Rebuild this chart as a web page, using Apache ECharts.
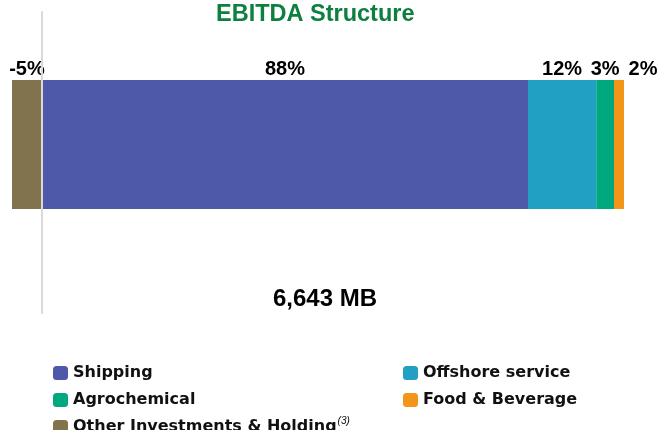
<!DOCTYPE html>
<html>
<head>
<meta charset="utf-8">
<script src="https://cdn.jsdelivr.net/npm/echarts@6/dist/echarts.min.js"></script>
<style>
  html, body { margin: 0; padding: 0; background: #fff; }
  #chart { width: 661px; height: 430px; }
</style>
</head>
<body>
<div id="chart"></div>
<script>
// ---- data ----
const categories = ['EBITDA'];
const seriesNames = ['Shipping', 'Offshore service', 'Agrochemical', 'Food & Beverage', 'Other Investments & Holding'];
const shipping = [87.6];
const offshore = [12.3];
const agrochemical = [3.2];
const foodBeverage = [1.8];
const otherHolding = [-5.4];
const totalLabel = '6,643 MB';
const titleText = 'EBITDA Structure';

const values = [shipping, offshore, agrochemical, foodBeverage, otherHolding];
const colors = ['#4F59AA', '#21A0C3', '#00A880', '#F29518', '#80734E'];

let posSum = 0, negSum = 0;
values.forEach(v => { if (v[0] >= 0) posSum += v[0]; else negSum += v[0]; });
const xMin = Math.round(negSum * 100) / 100;
const xMax = Math.round(posSum * 100) / 100;

const chart = echarts.init(document.getElementById('chart'), null, { renderer: 'canvas' });

const labelOffsets = [[0, 0], [0, 0], [0, 0], [24, 0], [0, 0]];

const series = seriesNames.map((name, i) => ({
  name: name,
  type: 'bar',
  stack: 'total',
  xAxisIndex: 0,
  yAxisIndex: 0,
  barWidth: '100%',
  itemStyle: { color: colors[i] },
  label: {
    show: true,
    position: 'top',
    distance: 1,
    offset: labelOffsets[i],
    fontFamily: 'Arial, "Liberation Sans", sans-serif',
    fontWeight: 'bold',
    fontSize: 20,
    color: '#000',
    formatter: p => Math.round(p.value) + '%'
  },
  data: values[i]
}));

const legendText = {
  fontFamily: '"DejaVu Sans", sans-serif',
  fontWeight: 'bold',
  fontSize: 16,
  color: '#111',
  rich: {
    sup: { fontSize: 10, fontStyle: 'italic', fontWeight: 'normal', fontFamily: 'Arial, sans-serif', color: '#111', padding: [0, 0, 12, 1] }
  }
};

function legendBlock(names, left, top, fmt) {
  const o = {
    data: names,
    orient: 'vertical',
    left: left,
    top: top,
    padding: 0,
    itemWidth: 15,
    itemHeight: 14,
    itemGap: 11,
    icon: 'roundRect',
    selectedMode: false,
    textStyle: legendText
  };
  if (fmt) o.formatter = fmt;
  return o;
}

chart.setOption({
  animation: false,
  title: [
    {
      text: titleText,
      left: 216,
      top: 3,
      padding: 0,
      textStyle: { fontFamily: 'Arial, "Liberation Sans", sans-serif', fontWeight: 'bold', fontSize: 23.5, color: '#0D8040' }
    },
    {
      text: totalLabel,
      left: 268,
      top: 282,
      textStyle: { fontFamily: 'Arial, "Liberation Sans", sans-serif', fontWeight: 'bold', fontSize: 24, color: '#000' }
    }
  ],
  legend: [
    legendBlock([seriesNames[0], seriesNames[2]], 53, 365),
    legendBlock([seriesNames[4]], 53, 416, n => n + '{sup|(3)}'),
    legendBlock([seriesNames[1], seriesNames[3]], 403, 365)
  ],
  grid: [
    { left: 12, right: 37, top: 80, height: 129 },
    { left: 12, right: 37, top: 12, height: 301 }
  ],
  xAxis: [
    { type: 'value', gridIndex: 0, min: xMin, max: xMax, show: false },
    { type: 'value', gridIndex: 1, min: xMin, max: xMax, show: false }
  ],
  yAxis: [
    { type: 'category', gridIndex: 0, data: categories, show: false },
    {
      type: 'category', gridIndex: 1, data: categories, z: 10,
      axisLine: { show: true, onZero: true, lineStyle: { color: '#D9D9D9', width: 2 } },
      axisTick: { show: false },
      axisLabel: { show: false }
    }
  ],
  series: series
});
</script>
</body>
</html>
